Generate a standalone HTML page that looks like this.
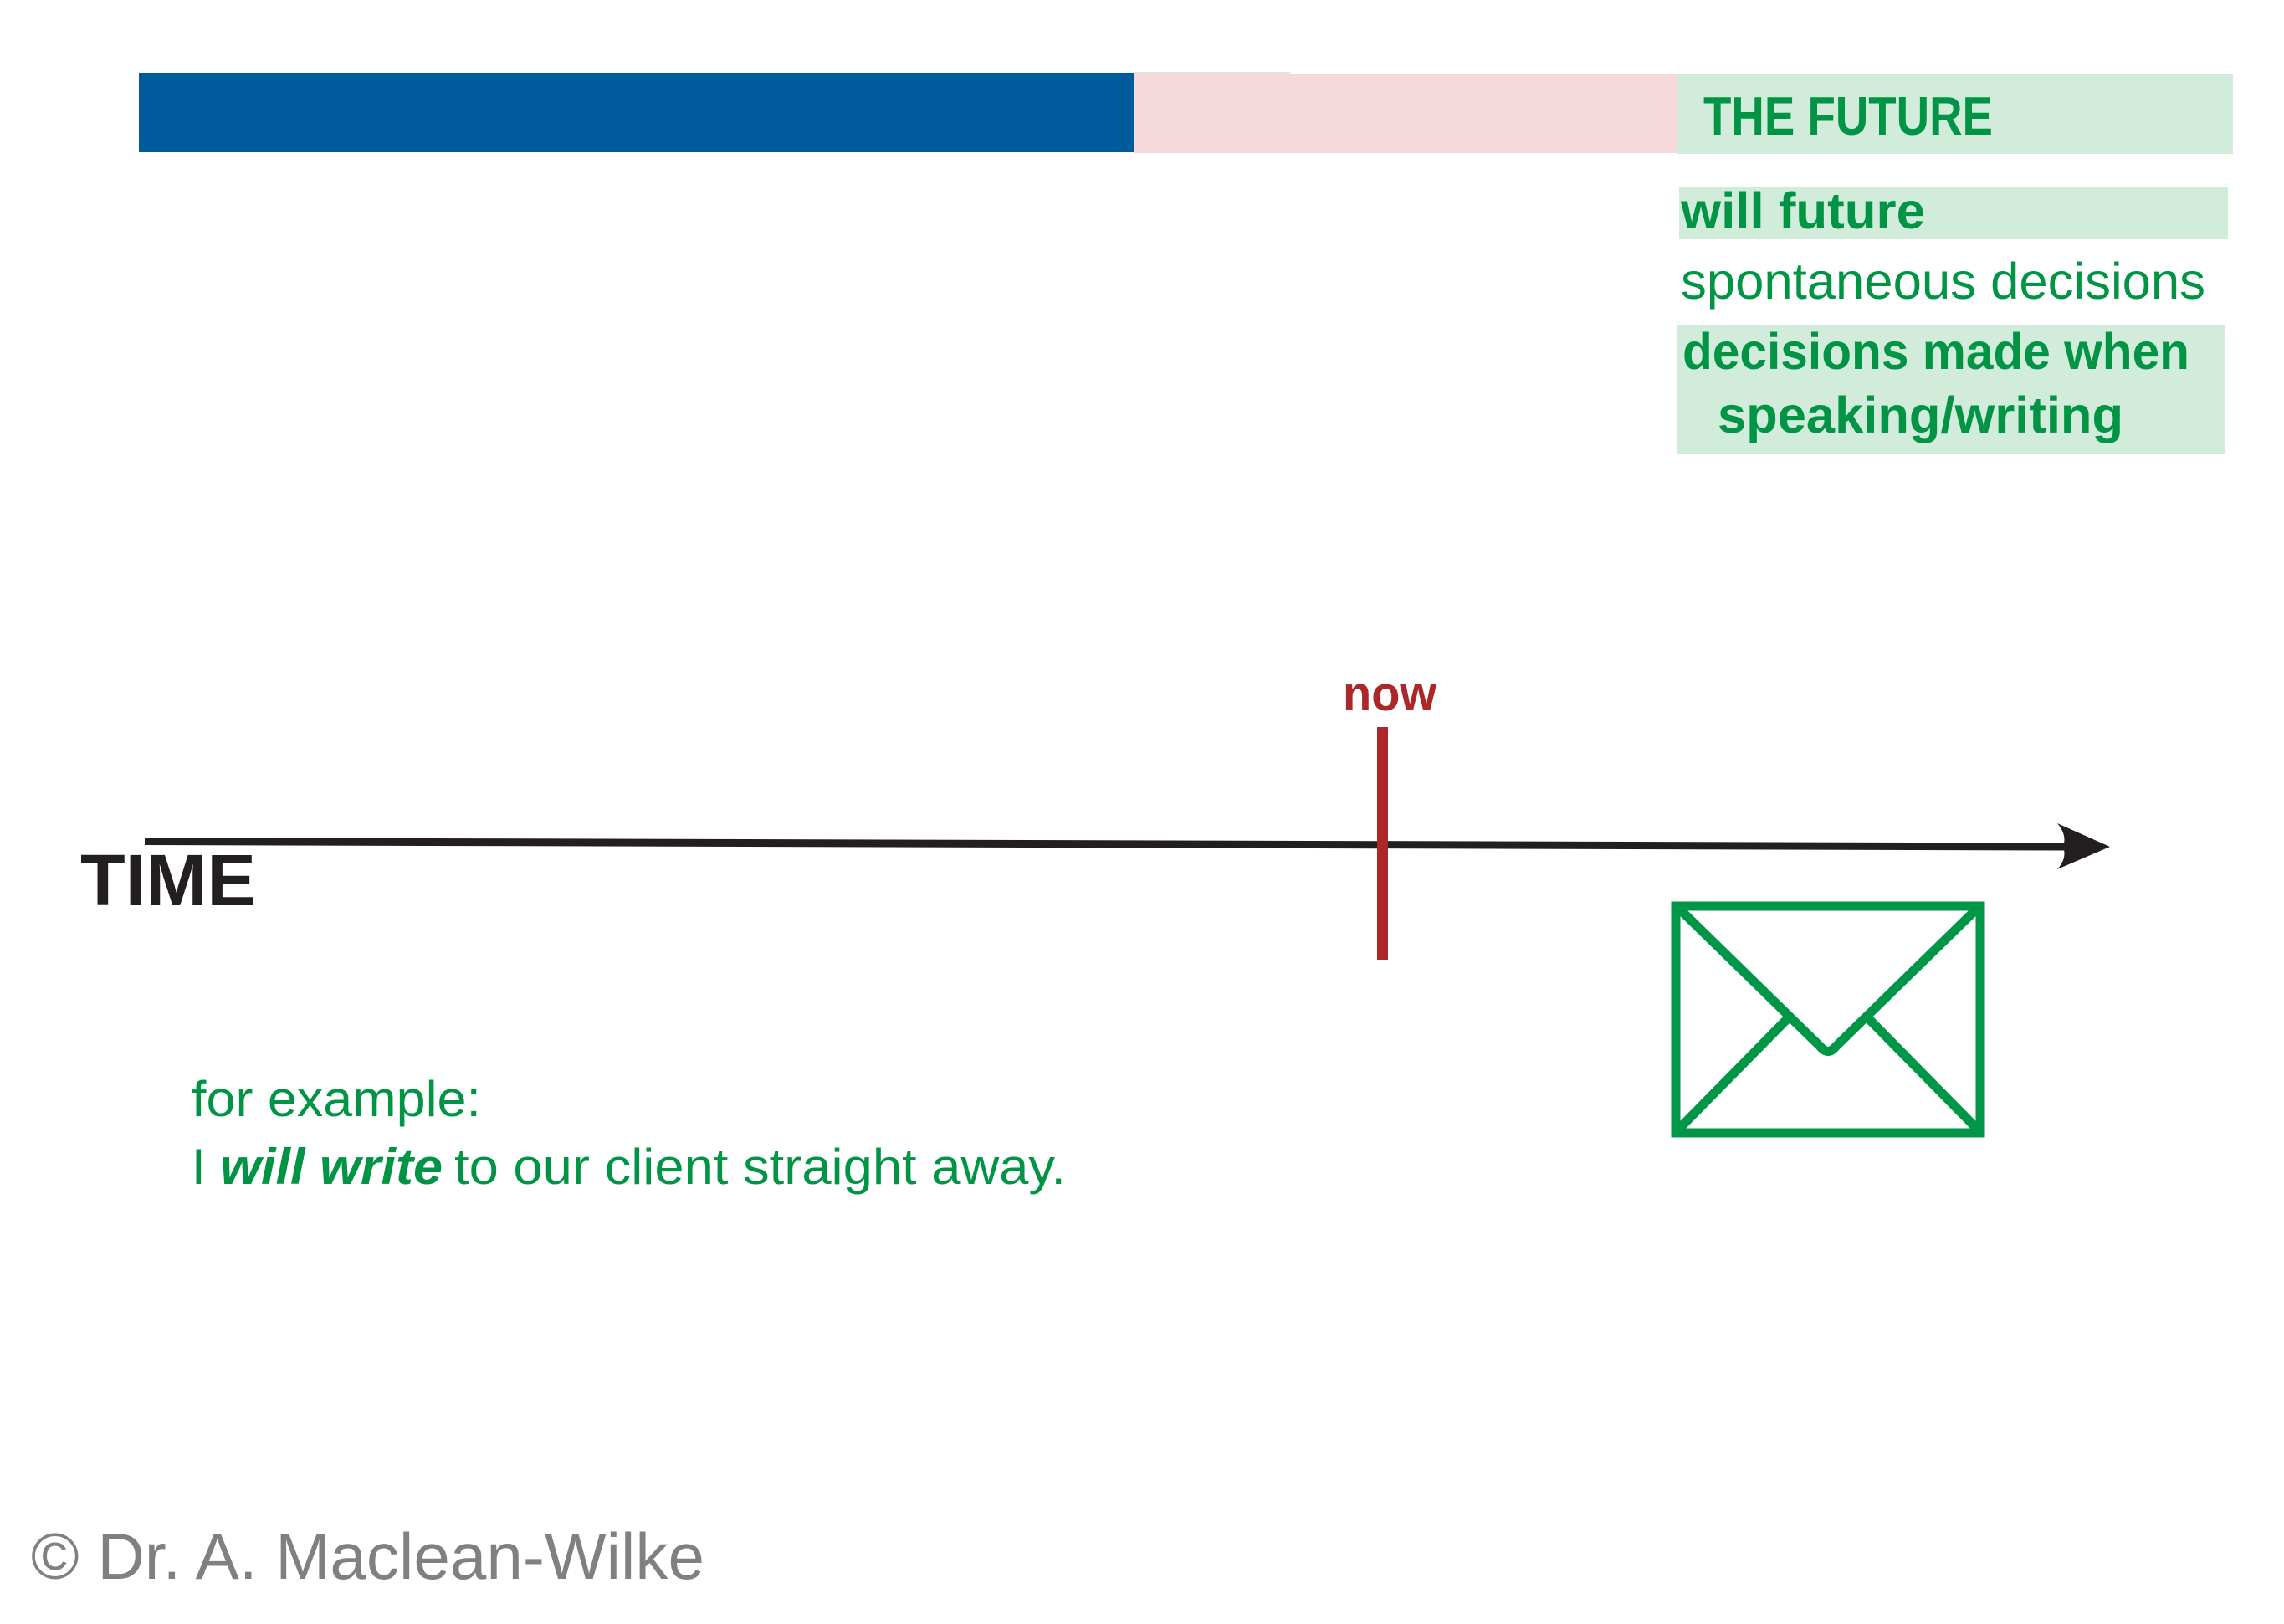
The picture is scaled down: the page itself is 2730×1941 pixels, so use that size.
<!DOCTYPE html>
<html>
<head>
<meta charset="utf-8">
<style>
  html, body { margin: 0; padding: 0; background: #ffffff; }
  body { width: 2730px; height: 1941px; overflow: hidden; }
  svg { display: block; }
  .lib { font-family: "Liberation Sans", Arial, sans-serif; }
</style>
</head>
<body>
<svg width="2730" height="1941" viewBox="0 0 2730 1941" xmlns="http://www.w3.org/2000/svg">
  <rect x="0" y="0" width="2730" height="1941" fill="#ffffff"/>

  <!-- Top bars -->
  <rect x="166" y="87" width="1190" height="95" fill="#005b9c"/>
  <rect x="1356" y="88" width="648" height="95" fill="#f5d9dc"/>
  <rect x="1356" y="86" width="186" height="3" fill="#ece1e2"/>
  <rect x="2004" y="88" width="665" height="96" fill="#d1ecda"/>

  <!-- Right column boxes -->
  <rect x="2007" y="223" width="656" height="63" fill="#d1ecda"/>
  <rect x="2004" y="388" width="656" height="155" fill="#d1ecda"/>

  <g class="lib" fill="#009444">
    <text x="2036" y="161" font-size="65" font-weight="bold" textLength="346" lengthAdjust="spacingAndGlyphs">THE FUTURE</text>
    <text x="2009" y="273" font-size="61" font-weight="bold" textLength="292" lengthAdjust="spacingAndGlyphs">will future</text>
    <text x="2009" y="357" font-size="61" textLength="627" lengthAdjust="spacingAndGlyphs">spontaneous decisions</text>
    <text x="2011" y="441" font-size="61" font-weight="bold" textLength="606" lengthAdjust="spacingAndGlyphs">decisions made when</text>
    <text x="2053" y="517" font-size="61" font-weight="bold" textLength="485" lengthAdjust="spacingAndGlyphs">speaking/writing</text>
  </g>

  <!-- now marker -->
  <text class="lib" x="1605" y="849" font-size="58" font-weight="bold" fill="#ab2729" textLength="112" lengthAdjust="spacingAndGlyphs">now</text>

  <!-- Time axis -->
  <line x1="173" y1="1005.5" x2="2468" y2="1012" stroke="#231f20" stroke-width="9"/>
  <path d="M2522,1012 L2459,984 Q2471,998 2466,1012 Q2471,1026 2459,1039 Z" fill="#231f20"/>

  <!-- red now line (over axis) -->
  <rect x="1646" y="869" width="13" height="278" fill="#ab2729"/>

  <!-- TIME label -->
  <text class="lib" x="96" y="1082" font-size="87" font-weight="bold" fill="#231f20" textLength="210" lengthAdjust="spacingAndGlyphs">TIME</text>

  <!-- Envelope -->
  <g fill="none" stroke="#009648" stroke-width="11">
    <rect x="2003" y="1083" width="364" height="271"/>
    <path d="M2009,1088 L2176,1251 Q2185,1262 2194,1251 L2361,1088" stroke-linejoin="round" stroke-linecap="round"/>
    <line x1="2008" y1="1348" x2="2139" y2="1215"/>
    <line x1="2362" y1="1348" x2="2231" y2="1215"/>
  </g>

  <!-- Example text -->
  <g class="lib" fill="#009444">
    <text x="229" y="1334" font-size="60" textLength="346" lengthAdjust="spacingAndGlyphs">for example:</text>
    <text x="229" y="1415" font-size="60">I</text>
    <text x="263" y="1415" font-size="60" font-weight="bold" font-style="italic" textLength="266" lengthAdjust="spacingAndGlyphs">will write</text>
    <text x="543" y="1415" font-size="60" textLength="731" lengthAdjust="spacingAndGlyphs">to our client straight away.</text>
  </g>

  <!-- Copyright -->
  <text class="lib" x="37" y="1887" font-size="78" fill="#808080" textLength="805" lengthAdjust="spacingAndGlyphs">© Dr. A. Maclean-Wilke</text>
</svg>
</body>
</html>
